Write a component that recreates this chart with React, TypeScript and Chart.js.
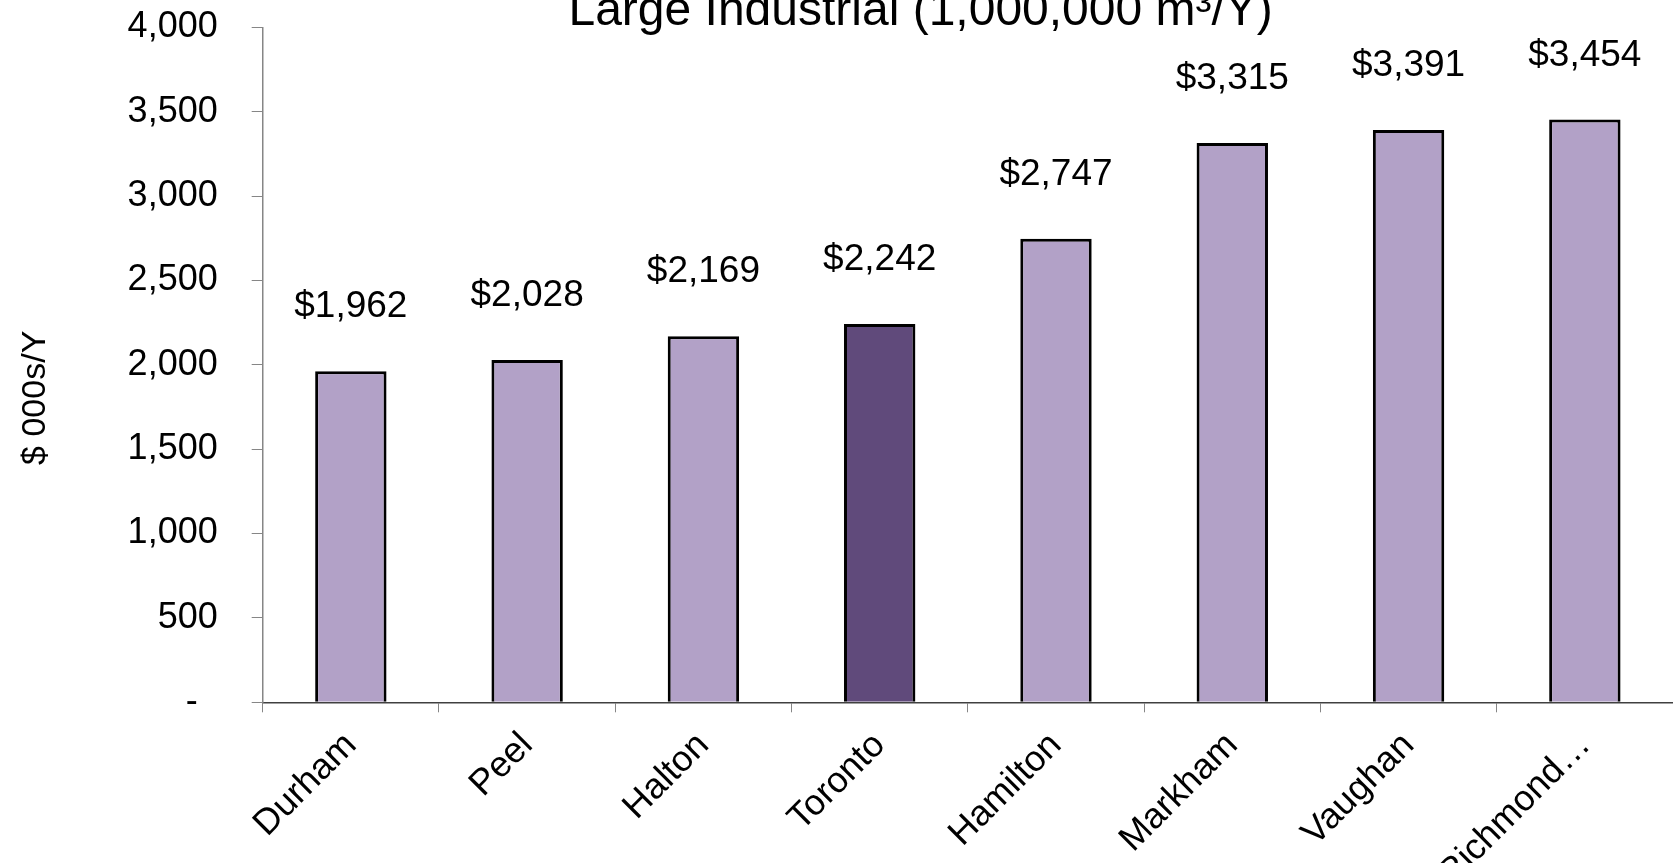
import React, { useEffect, useRef } from "react";
import { Chart, registerables } from "chart.js";

Chart.register(...registerables);

const categories = ["Durham", "Peel", "Halton", "Toronto", "Hamilton", "Markham", "Vaughan", "Richmond…"];
const costs = [1962, 2028, 2169, 2242, 2747, 3315, 3391, 3454];
const highlighted = ["Toronto"];
const yTicks = [0, 500, 1000, 1500, 2000, 2500, 3000, 3500, 4000];
const chartTitle = "Large Industrial (1,000,000 m³/Y)";
const yAxisTitle = "$ 000s/Y";

const FONT = "'Liberation Sans', Arial, Helvetica, sans-serif";
const LIGHT = "#B2A1C7";
const DARK = "#604A7B";

const titlePlugin = {
  id: "customTitle",
  afterDraw(chart: any) {
    const ctx = chart.ctx;
    const area = chart.chartArea;
    ctx.save();
    ctx.font = `48px ${FONT}`;
    ctx.fillStyle = "#000";
    ctx.textAlign = "center";
    ctx.textBaseline = "alphabetic";
    ctx.fillText(chartTitle, chart.width * 0.5503, 25);
    // vertical axis title
    ctx.font = `34px ${FONT}`;
    ctx.textBaseline = "middle";
    ctx.translate(36, (area.top + area.bottom) / 2 + 33);
    ctx.rotate(-Math.PI / 2);
    ctx.fillText(yAxisTitle, 0, 0);
    ctx.restore();
  },
};

const valueLabelPlugin = {
  id: "valueLabels",
  afterDatasetsDraw(chart: any) {
    const ctx = chart.ctx;
    const meta = chart.getDatasetMeta(0);
    ctx.save();
    ctx.font = `37px ${FONT}`;
    ctx.fillStyle = "#000";
    ctx.textAlign = "center";
    ctx.textBaseline = "middle";
    meta.data.forEach((bar: any, i: number) => {
      const v = chart.data.datasets[0].data[i] as number;
      ctx.fillText("$" + v.toLocaleString("en-US"), bar.x, bar.y - 64);
    });
    ctx.restore();
  },
};

export default function App() {
  const ref = useRef<HTMLCanvasElement>(null);

  useEffect(() => {
    document.body.style.margin = "0";
    const canvas = ref.current!;
    const chart = new Chart(canvas, {
      type: "bar",
      data: {
        labels: categories,
        datasets: [
          {
            data: costs,
            backgroundColor: categories.map((c) => (highlighted.includes(c) ? DARK : LIGHT)),
            borderColor: "#000",
            borderWidth: 3,
            barPercentage: 0.405,
            categoryPercentage: 1,
          },
        ],
      },
      options: {
        responsive: false,
        animation: false,
        devicePixelRatio: 1,
        layout: { padding: { top: 27.3, left: 0, right: 0, bottom: 0 } },
        plugins: {
          legend: { display: false },
          title: { display: false },
          tooltip: { enabled: false },
        },
        scales: {
          x: {
            offset: true,
            grid: {
              display: true,
              offset: true,
              drawOnChartArea: false,
              drawTicks: true,
              tickLength: 10,
              color: "#868686",
            },
            border: { display: true, color: "#404040", width: 1.5 },
            ticks: {
              autoSkip: false,
              maxRotation: 45,
              minRotation: 45,
              padding: 12,
              labelOffset: 0,
              color: "#000",
              font: { family: FONT, size: 36 },
            },
            afterFit(scale: any) {
              scale.height = 160.7;
            },
          },
          y: {
            min: 0,
            max: 4000,
            afterBuildTicks(scale: any) {
              scale.ticks = yTicks.map((v) => ({ value: v }));
            },
            grid: {
              display: true,
              drawOnChartArea: false,
              drawTicks: true,
              tickLength: 11,
              color: "#868686",
            },
            border: { display: true, color: "#868686", width: 1.5 },
            ticks: {
              padding: 34,
              color: "#000",
              font: { family: FONT, size: 36 },
              callback: (v: any) => (Number(v) === 0 ? "-  " : Number(v).toLocaleString("en-US")),
            },
            title: { display: false },
            afterFit(scale: any) {
              scale.width = 262.7;
              scale.paddingTop = 0;
              scale.paddingBottom = 0;
            },
          },
        },
      },
      plugins: [titlePlugin, valueLabelPlugin],
    });
    return () => chart.destroy();
  }, []);

  return (
    <div style={{ width: 1673, height: 863, overflow: "hidden" }}>
      <canvas ref={ref} width={1673} height={863} style={{ display: "block" }} />
    </div>
  );
}
